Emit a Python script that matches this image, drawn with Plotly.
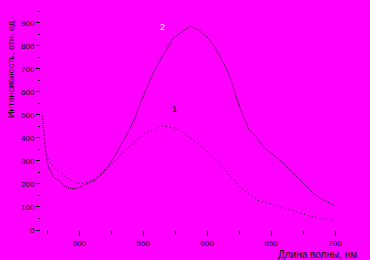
import plotly.graph_objects as go

# Curve 2 (upper, peak ~587 nm)
wl2 = [471.1, 471.9, 472.7, 473.4, 475.8, 479.7, 485.2, 489.1, 495.3, 500.8, 507.0,
       512.5, 518.8, 524.2, 528.1, 532.0, 536.0, 539.8, 543.8, 547.7, 553.1, 557.8,
       563.3, 568.8, 573.4, 580.5, 586.7, 593.0, 600.0, 606.3, 611.7, 615.6, 619.5,
       623.4, 627.3, 629.7, 632.0, 635.2, 639.1, 643.8, 649.2, 654.7, 659.4, 664.8,
       668.8, 672.7, 678.1, 682.8, 688.3, 693.8, 700.0]
int2 = [500, 457, 404, 348, 274, 230, 209, 187, 178, 187, 204,
        217, 252, 291, 326, 365, 404, 443, 491, 552, 622, 683,
        739, 791, 835, 861, 887, 870, 839, 791, 739, 696, 639,
        565, 509, 478, 443, 422, 400, 361, 339, 313, 291, 261,
        239, 217, 187, 161, 139, 122, 104]

# Curve 1 (lower, peak ~565 nm)
wl1 = [471.1, 471.9, 472.7, 473.4, 475.8, 479.7, 485.2, 493.0, 498.4, 503.1, 510.9,
       518.8, 526.6, 532.0, 538.3, 545.3, 551.6, 557.8, 564.8, 569.5, 575.0, 581.3,
       586.7, 592.2, 600.0, 606.3, 612.5, 619.5, 625.8, 631.3, 639.1, 643.8, 649.2,
       657.0, 664.8, 672.7, 680.5, 690.6, 698.4]
int1 = [500, 457, 404, 348, 304, 274, 248, 217, 204, 204, 217,
        248, 291, 326, 356, 391, 422, 435, 452, 448, 443, 422,
        400, 378, 339, 304, 270, 226, 187, 161, 130, 122, 113,
        100, 87, 74, 61, 48, 43]

x_ticks = [500, 550, 600, 650, 700]
y_ticks = [0, 100, 200, 300, 400, 500, 600, 700, 800, 900]
curve_labels = ["1", "2"]
label_pos = [(574.2, 526), (564.8, 883)]

x_title = "Длина волны, нм"
y_title = "Интенсивность, отн. ед."

BG = "#FF00FF"
FONT = "Liberation Sans"

fig = go.Figure()
fig.add_trace(go.Scatter(x=wl1, y=int1, mode="lines",
                         line=dict(color="black", width=1, dash="1px,3px"),
                         showlegend=False))
fig.add_trace(go.Scatter(x=wl2, y=int2, mode="lines",
                         line=dict(color="black", width=1, dash="1px,1px"),
                         showlegend=False))

fig.update_layout(
    width=370, height=260,
    margin=dict(l=41, r=20, t=5, b=30),
    paper_bgcolor=BG, plot_bgcolor=BG,
    font=dict(family=FONT, size=8, color="black"),
    showlegend=False,
)
fig.update_xaxes(range=[470, 711.7], showgrid=False, zeroline=False, showline=False,
                 tickvals=x_ticks, ticks="outside", ticklen=5, tickwidth=1,
                 tickcolor="black", tickfont=dict(size=8),
                 minor=dict(dtick=25, tick0=475, ticks="outside", ticklen=3,
                            tickcolor="black", showgrid=False))
fig.update_yaxes(range=[0, 978], showgrid=False, zeroline=False, showline=False,
                 tickvals=y_ticks, ticks="outside", ticklen=4, tickwidth=1,
                 tickcolor="black", tickfont=dict(size=8),
                 minor=dict(dtick=50, tick0=50, ticks="outside", ticklen=2,
                            tickcolor="black", showgrid=False))

# curve labels
fig.add_annotation(x=label_pos[0][0], y=label_pos[0][1], text=curve_labels[0],
                   showarrow=False, font=dict(size=9, color="black"))
fig.add_annotation(x=label_pos[1][0], y=label_pos[1][1], text=curve_labels[1],
                   showarrow=False, font=dict(size=9, color="white"))

# axis titles
fig.add_annotation(xref="paper", yref="paper", x=-0.097, y=0.72, text=y_title,
                   textangle=-90, showarrow=False, xanchor="center", yanchor="middle",
                   font=dict(size=9, color="black"))
fig.add_annotation(xref="paper", yref="paper", x=0.896, y=-0.109, text=x_title,
                   showarrow=False, xanchor="center", yanchor="middle",
                   font=dict(size=10, color="black"))

fig.write_html("out.html")
